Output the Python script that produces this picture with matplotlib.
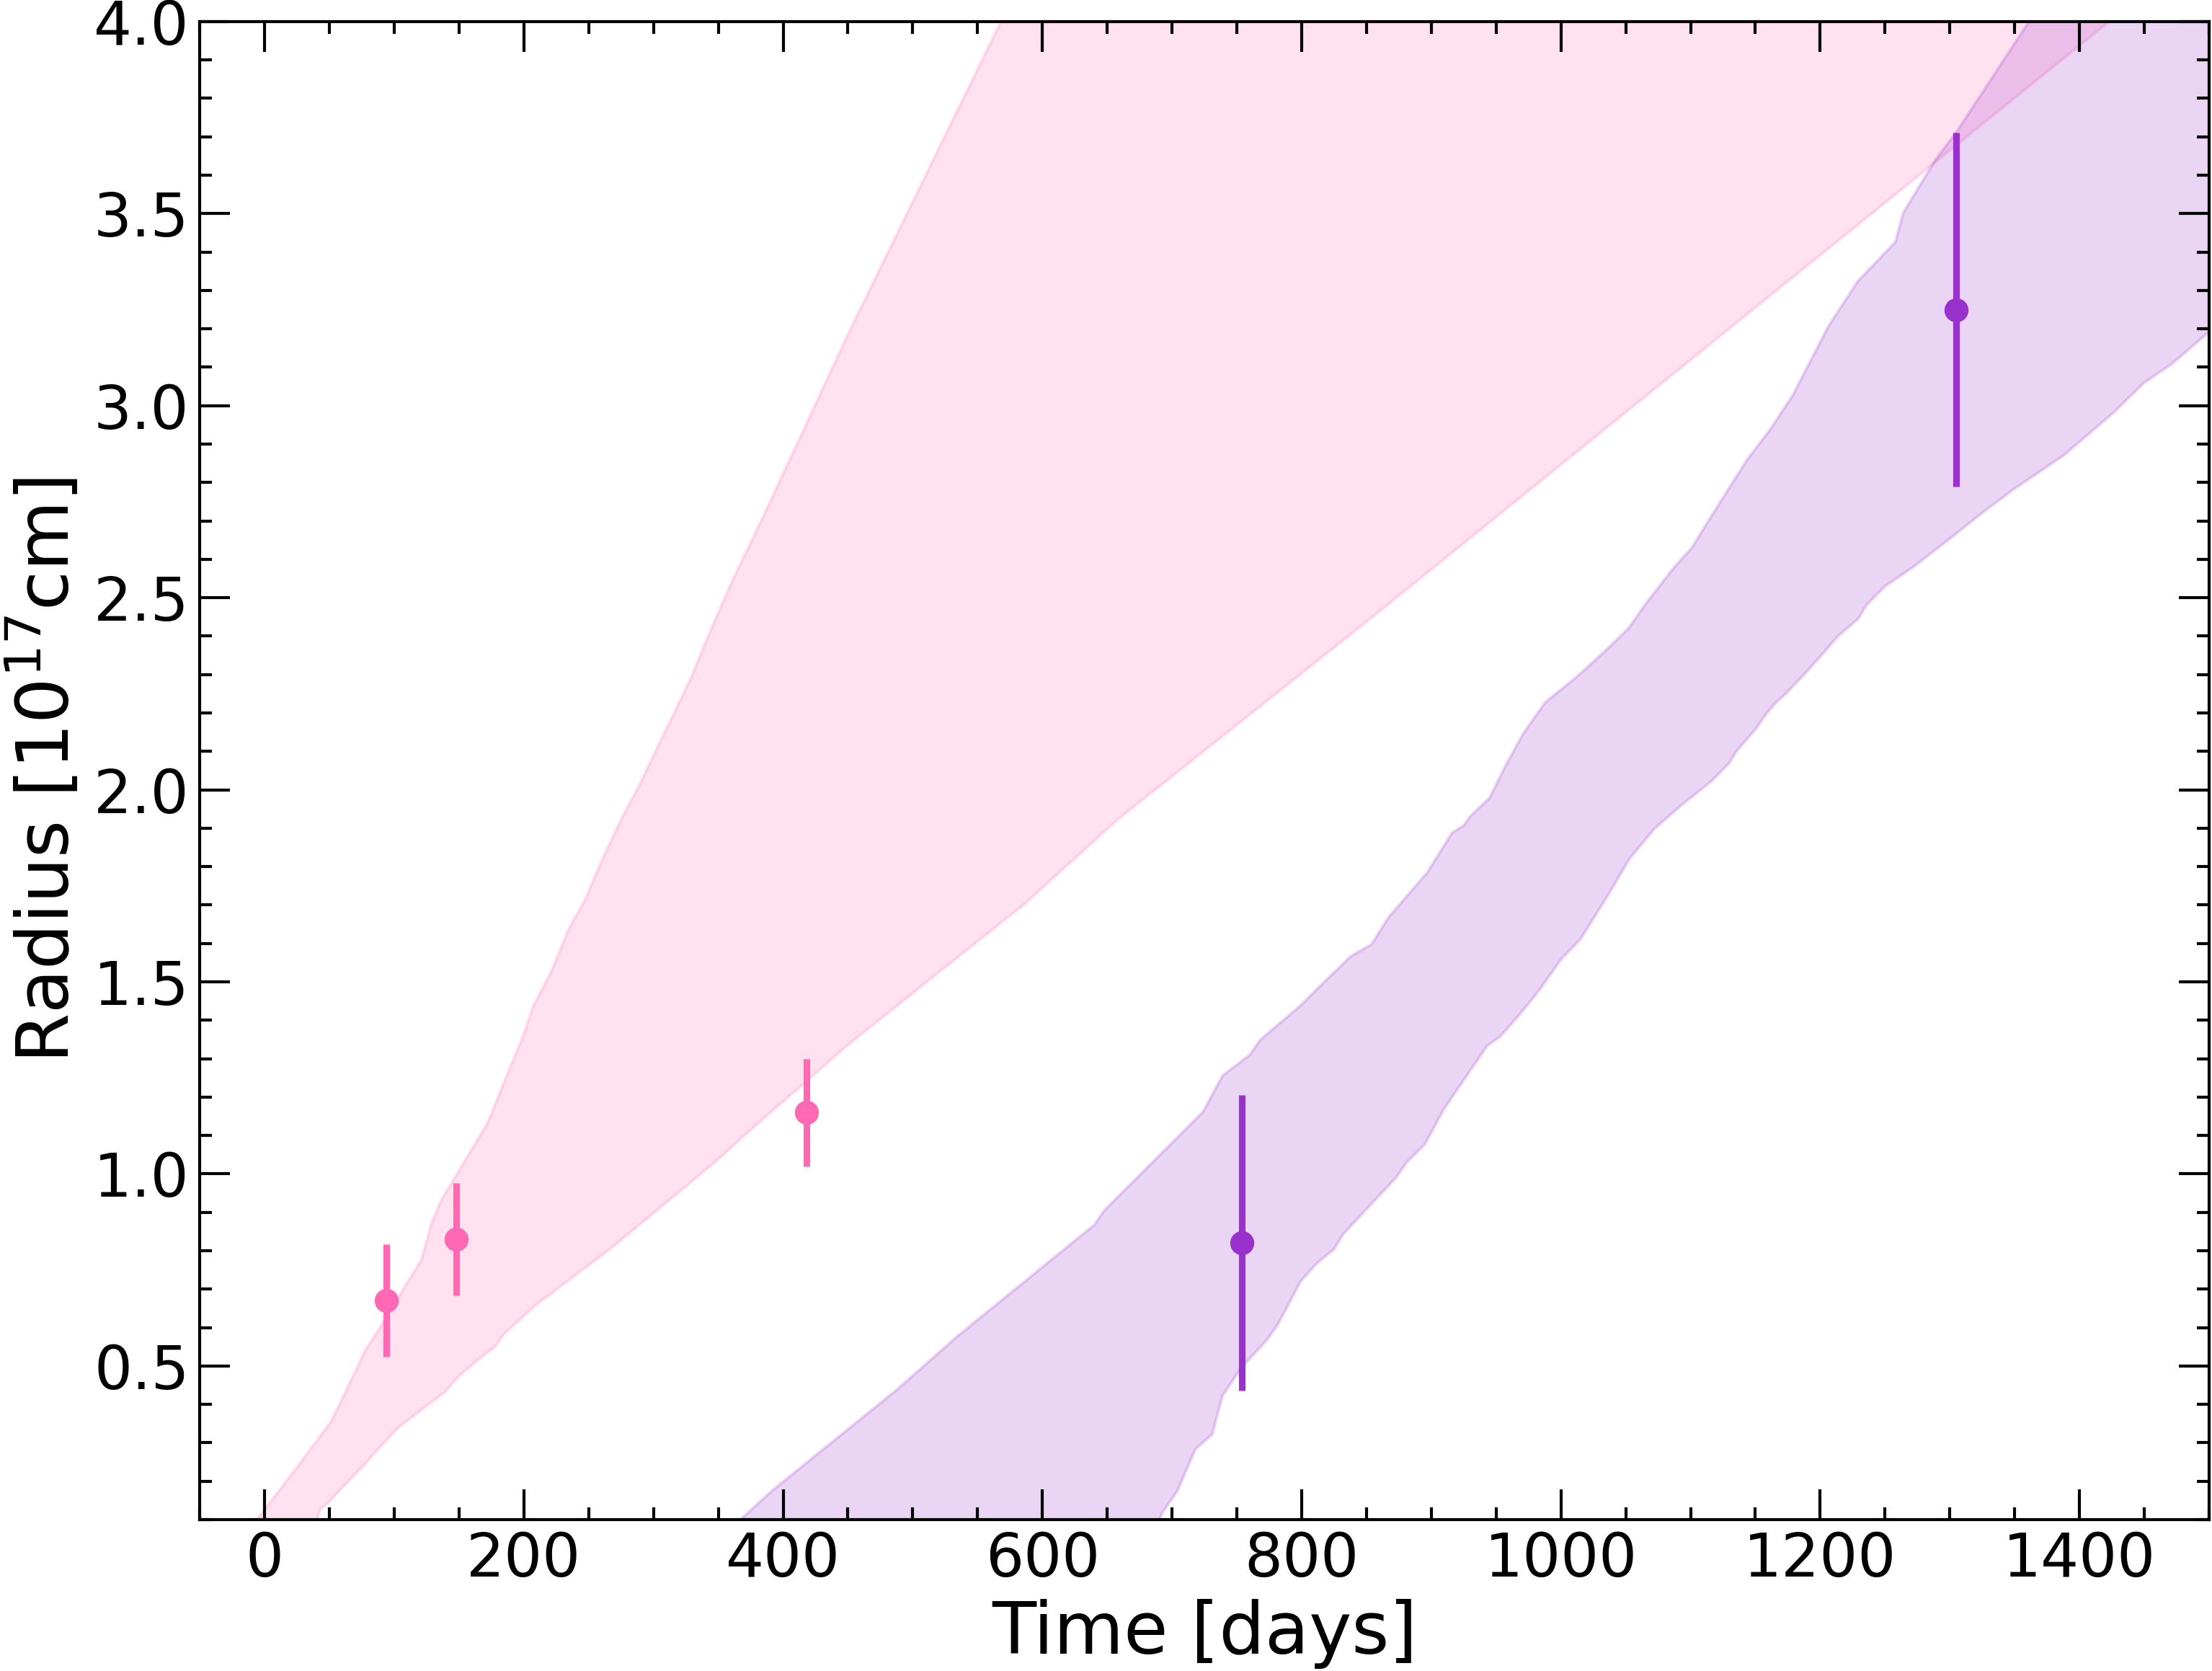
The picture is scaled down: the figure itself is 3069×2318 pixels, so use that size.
import numpy as np
import matplotlib
matplotlib.use('Agg')
import matplotlib.pyplot as plt
from matplotlib.ticker import MultipleLocator

# measured points (days, 1e17 cm)
pink_t = [94, 148, 418]
pink_r = [0.67, 0.83, 1.16]
pink_err = [0.146, 0.146, 0.14]

purple_t = [754, 1305]
purple_r = [0.82, 3.25]
purple_err = [0.385, 0.46]

# pink band edges
pink_hi_t = [-15, 24, 51, 58, 78, 86, 121, 129, 136, 172, 185, 200, 207, 221, 235,
             247, 261, 276, 288, 329, 343, 361, 374, 389, 452, 568, 640]
pink_hi_r = [0.06, 0.232, 0.354, 0.402, 0.543, 0.584, 0.777, 0.874, 0.93, 1.133, 1.241,
             1.364, 1.435, 1.526, 1.641, 1.713, 1.823, 1.929, 2.005, 2.292, 2.407, 2.546,
             2.637, 2.743, 3.20, 4.0, 4.5]
pink_lo_t = [38, 40, 43, 50, 58, 78, 88, 102, 113, 139, 151, 164, 178, 185, 209, 266,
             347, 380, 418, 449, 574, 586, 659, 851, 1423, 1520]
pink_lo_r = [0.0, 0.098, 0.128, 0.147, 0.176, 0.247, 0.284, 0.336, 0.365, 0.432, 0.477,
             0.514, 0.551, 0.584, 0.658, 0.803, 1.029, 1.13, 1.241, 1.333, 1.67, 1.702,
             1.925, 2.44, 4.0, 4.26]

# purple band edges
purple_hi_t = [340, 372, 391, 488, 535, 617, 640, 648, 724, 739, 760, 768, 799, 819, 838,
               854, 867, 897, 916, 925, 930, 945, 957, 971, 988, 1011, 1022, 1039, 1052,
               1066, 1087, 1101, 1109, 1123, 1144, 1161, 1179, 1206, 1229, 1258, 1264,
               1289, 1305, 1361, 1400, 1520]
purple_hi_r = [0.02, 0.115, 0.174, 0.439, 0.579, 0.804, 0.867, 0.906, 1.162, 1.256, 1.31,
               1.349, 1.438, 1.505, 1.567, 1.598, 1.668, 1.785, 1.888, 1.907, 1.931, 1.979,
               2.061, 2.147, 2.228, 2.291, 2.324, 2.377, 2.42, 2.487, 2.578, 2.63, 2.674,
               2.75, 2.861, 2.936, 3.028, 3.205, 3.324, 3.426, 3.502, 3.641, 3.712, 4.0,
               4.2, 4.8]
purple_lo_t = [680, 692, 704, 718, 731, 739, 753, 774, 782, 799, 811, 825, 832, 873, 881,
               895, 910, 943, 953, 967, 983, 1000, 1015, 1024, 1038, 1053, 1072, 1093,
               1116, 1130, 1135, 1150, 1159, 1165, 1174, 1189, 1203, 1214, 1229, 1236,
               1250, 1271, 1302, 1325, 1350, 1388, 1427, 1450, 1471, 1499, 1520]
purple_lo_r = [0.0, 0.115, 0.174, 0.283, 0.322, 0.423, 0.493, 0.571, 0.61, 0.719, 0.765,
               0.804, 0.843, 0.991, 1.03, 1.077, 1.17, 1.333, 1.357, 1.41, 1.477, 1.558,
               1.611, 1.659, 1.735, 1.821, 1.898, 1.96, 2.022, 2.07, 2.099, 2.157, 2.2,
               2.224, 2.252, 2.305, 2.358, 2.401, 2.444, 2.482, 2.53, 2.578, 2.659, 2.721,
               2.784, 2.871, 2.984, 3.06, 3.108, 3.189, 3.24]

pink = 'hotpink'
purple = 'darkorchid'

fig = plt.figure(figsize=(3069 / 300, 2318 / 300), dpi=300)
ax = fig.add_axes([0.0903, 0.0906, 0.9084, 0.8965])

# bands as closed polygons: upper edge then lower edge reversed
ax.fill(np.r_[pink_hi_t, pink_lo_t[::-1]], np.r_[pink_hi_r, pink_lo_r[::-1]],
        color=pink, alpha=0.2)
ax.fill(np.r_[purple_hi_t, purple_lo_t[::-1]], np.r_[purple_hi_r, purple_lo_r[::-1]],
        color=purple, alpha=0.2)

ax.errorbar(pink_t, pink_r, yerr=pink_err, fmt='o', color=pink, ms=7, elinewidth=2.2)
ax.errorbar(purple_t, purple_r, yerr=purple_err, fmt='o', color=purple, ms=7, elinewidth=2.2)

ax.set_xlim(-50, 1500)
ax.set_ylim(0.1, 4.0)
ax.xaxis.set_major_locator(MultipleLocator(200))
ax.xaxis.set_minor_locator(MultipleLocator(50))
ax.yaxis.set_major_locator(MultipleLocator(0.5))
ax.yaxis.set_minor_locator(MultipleLocator(0.1))
ax.tick_params(which='both', direction='in', top=True, right=True, width=1.0,
               labelsize=20)
ax.tick_params(which='major', length=10)
ax.tick_params(which='minor', length=4)
for s in ax.spines.values():
    s.set_linewidth(1.0)

ax.set_xlabel('Time [days]', fontsize=24, labelpad=3.5)
ax.set_ylabel('Radius [10$^{17}$cm]', fontsize=24, labelpad=3)

fig.savefig('out.png', dpi=300)
